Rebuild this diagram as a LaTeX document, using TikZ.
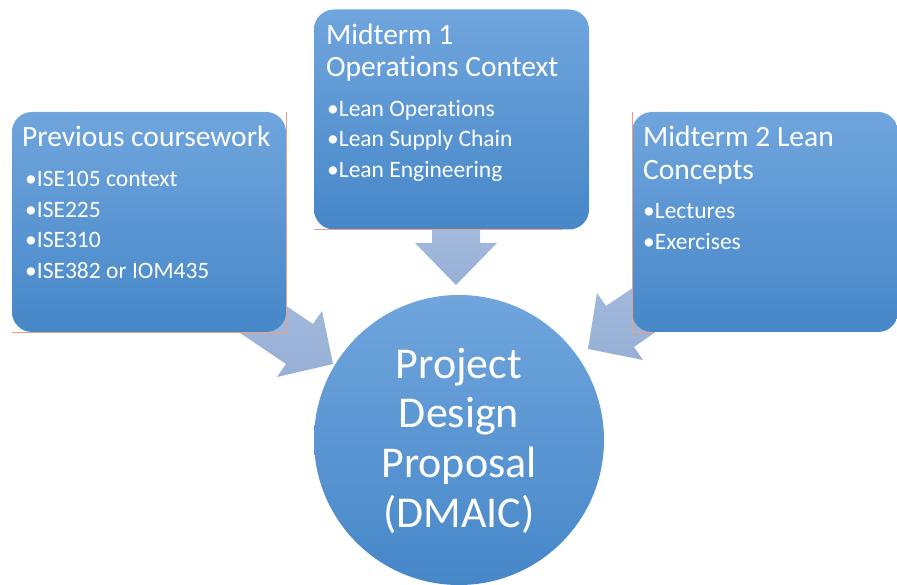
\documentclass[tikz,border=0pt]{standalone}
\usepackage{fontspec}
\setmainfont{Carlito}[Ligatures=NoCommon]
\definecolor{boxtop}{RGB}{112,165,221}
\definecolor{boxbot}{RGB}{70,135,200}
\definecolor{arrowtop}{RGB}{166,189,222}
\definecolor{arrowbot}{RGB}{150,175,212}
\definecolor{edgeline}{RGB}{240,160,130}
\tikzset{
  panel/.style={rounded corners=20pt, top color=boxtop, bottom color=boxbot, draw=none, inner sep=0pt},
  fatarrow/.style={top color=arrowtop, bottom color=arrowbot, draw=none},
  ttl/.style={anchor=base west, text=white, inner sep=0pt, font=\fontsize{29.5}{34}\selectfont},
  itm/.style={anchor=base west, text=white, inner sep=0pt, font=\fontsize{23.5}{27}\selectfont},
  big/.style={anchor=base, text=white, inner sep=0pt, font=\fontsize{44}{50}\selectfont},
  artifact/.style={draw=edgeline, line width=0.6pt}
}
\begin{document}
\begin{tikzpicture}[x=1pt,y=-1pt]
\useasboundingbox (0,0) rectangle (897,585);
% fat arrows (behind boxes)
\coordinate (la1) at (230,268); \coordinate (la2) at (313,324); \coordinate (la3) at (322,311);
\coordinate (lat) at (333,364); \coordinate (la4) at (277,377); \coordinate (la5) at (286,364); \coordinate (la6) at (203,308);
\shade[fatarrow] (la1) -- (la2) -- (la3) -- (lat) -- (la4) -- (la5) -- (la6) -- cycle;
\coordinate (ra1) at (689,250); \coordinate (ra2) at (606,306); \coordinate (ra3) at (597,293);
\coordinate (rat) at (588,349); \coordinate (ra4) at (643,360); \coordinate (ra5) at (634,347); \coordinate (ra6) at (716,290);
\shade[fatarrow] (ra1) -- (ra2) -- (ra3) -- (rat) -- (ra4) -- (ra5) -- (ra6) -- cycle;
\coordinate (ma1) at (432,215); \coordinate (ma2) at (432,243); \coordinate (ma3) at (415,243);
\coordinate (mat) at (456,285); \coordinate (ma4) at (497,243); \coordinate (ma5) at (480,243); \coordinate (ma6) at (480,215);
\shade[fatarrow] (ma1) -- (ma2) -- (ma3) -- (mat) -- (ma4) -- (ma5) -- (ma6) -- cycle;
% panels
\node[panel, minimum width=274pt, minimum height=220pt] (prev) at (149,222) {};
\node[panel, minimum width=275pt, minimum height=220pt] (mid1) at (451.5,119.5) {};
\node[panel, minimum width=266pt, minimum height=220pt] (mid2) at (765,222) {};
% faint edge artifacts
\draw[artifact] (286.5,112) -- (286.5,332.5) -- (12,332.5);
\draw[artifact] (314,229.5) -- (563,229.5);
\draw[artifact] (632.5,112) -- (632.5,332.5) -- (652,332.5);
% circle
\node[circle, minimum size=290pt, inner sep=0pt, top color=boxtop, bottom color=boxbot, draw=none] (goal) at (459,440) {};
% texts
\node[ttl] (t1) at (22,147) {Previous coursework};
\node[itm] (t1a) at (25,187) {•ISE105 context};
\node[itm] (t1b) at (25,218) {•ISE225};
\node[itm] (t1c) at (25,248) {•ISE310};
\node[itm] (t1d) at (25,279) {•ISE382 or IOM435};
\node[ttl] (t2) at (326,45) {Midterm 1};
\node[ttl] (t2b) at (326,77) {Operations Context};
\node[itm] (t2c) at (327,117) {•Lean Operations};
\node[itm] (t2d) at (327,147) {•Lean Supply Chain};
\node[itm] (t2e) at (327,178) {•Lean Engineering};
\node[ttl] (t3) at (643,147) {Midterm 2 Lean};
\node[ttl] (t3b) at (643,180) {Concepts};
\node[itm] (t3c) at (643,219) {•Lectures};
\node[itm] (t3d) at (643,250) {•Exercises};
\node[big] (c1) at (459,378) {Project};
\node[big] (c2) at (459,427) {Design};
\node[big] (c3) at (459,477) {Proposal};
\node[big] (c4) at (459,527) {(DMAIC)};
\end{tikzpicture}
\end{document}
